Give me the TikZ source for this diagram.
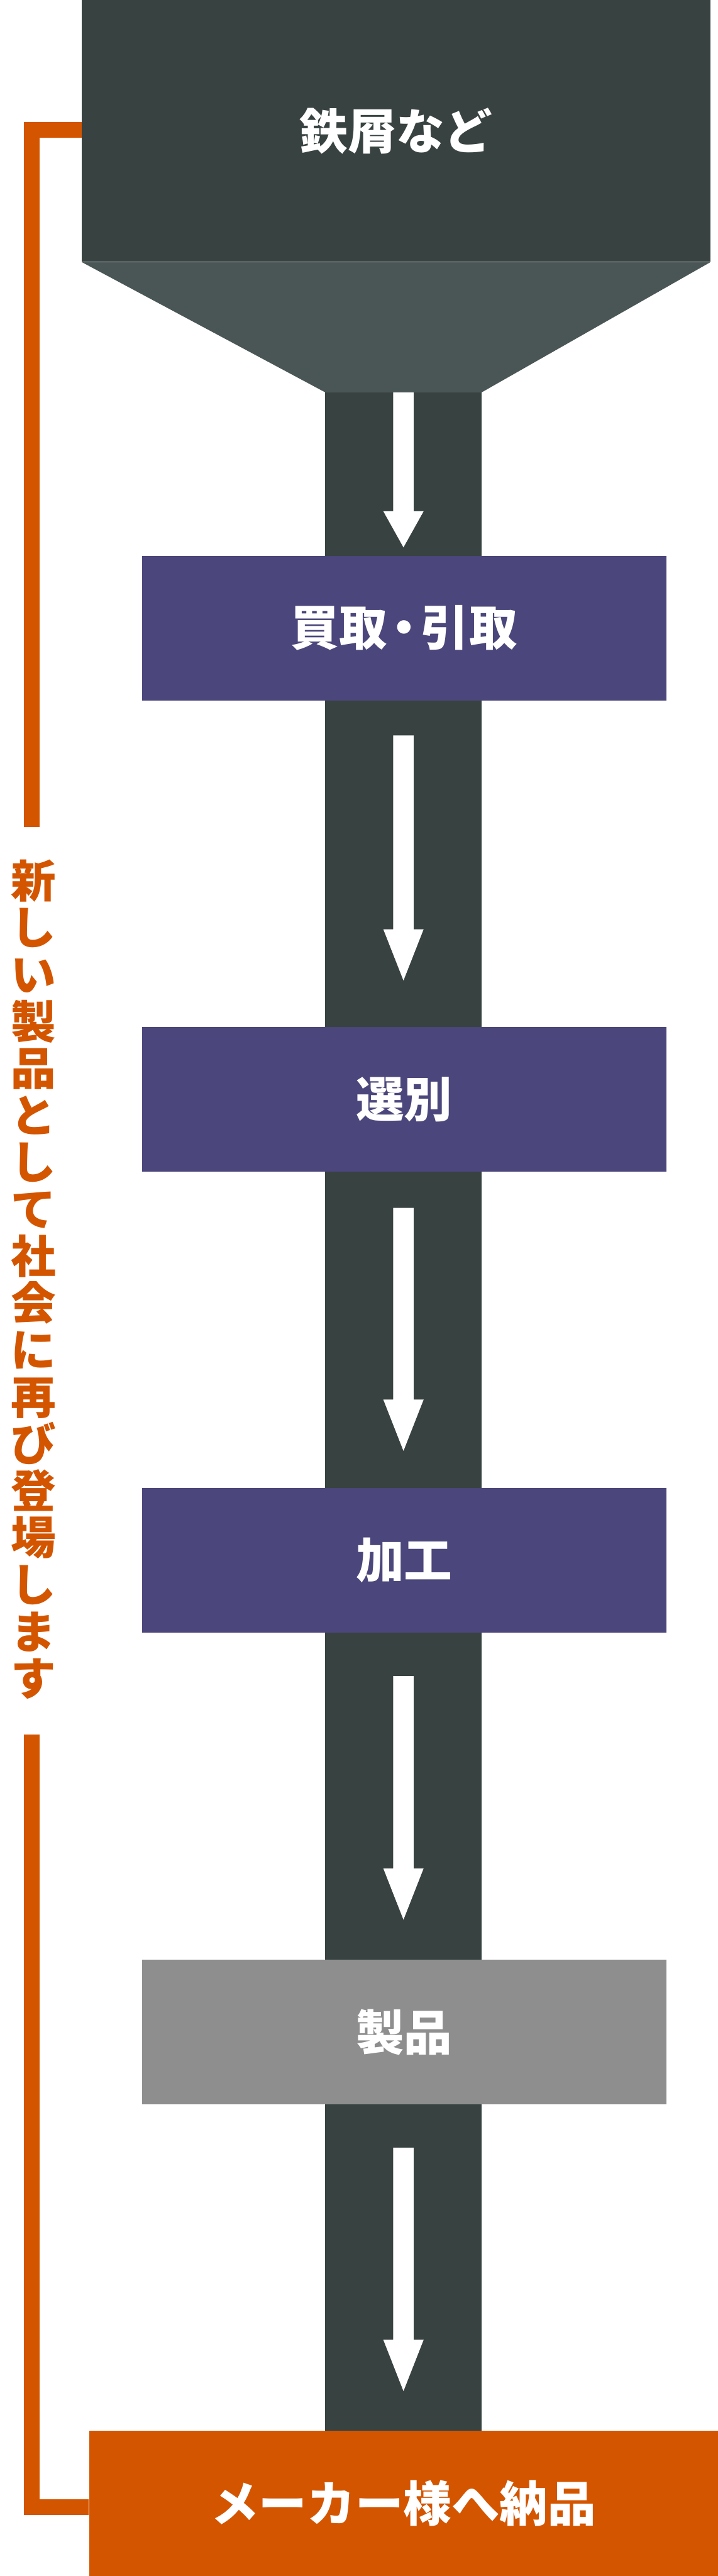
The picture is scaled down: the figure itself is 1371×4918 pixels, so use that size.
\documentclass[tikz,border=0pt]{standalone}
\usepackage{fontspec}
\setmainfont{Noto Sans CJK JP}
\usetikzlibrary{calc}
\definecolor{darkcol}{HTML}{384241}
\definecolor{funnelcol}{HTML}{4A5656}
\definecolor{purplecol}{HTML}{4B467B}
\definecolor{graycol}{HTML}{8E8E8E}
\definecolor{orangecol}{HTML}{D45500}
\newcommand\flowarrow[3]{%
  \fill[white] let \p1=(#1), \p2=(#2) in
    (\x1-19.5pt,\y1) -- (\x1+19.5pt,\y1) -- (\x1+19.5pt,\y2+#3pt) --
    (\x1+38.5pt,\y2+#3pt) -- (\x2,\y2) -- (\x1-38.5pt,\y2+#3pt) --
    (\x1-19.5pt,\y2+#3pt) -- cycle;}
\begin{document}
\begin{tikzpicture}[x=1pt,y=-1pt,
  box/.style={rectangle, inner sep=0pt, minimum width=1002pt, minimum height=276pt,
    text=white, font=\fontsize{92}{96}\selectfont\bfseries},
  bracket/.style={draw=orangecol, line width=30pt}]
\fill[white] (0,0) rectangle (1371,4918);
\useasboundingbox (0,0) rectangle (1371,4918);
% column
\fill[darkcol] (621,740) rectangle (920,4645);
% hopper
\node[box, fill=darkcol, minimum width=1201pt, minimum height=500pt] (src) at (756.5,250) {鉄屑など};
\coordinate (fl) at (621,749);
\coordinate (fr) at (920,749);
\fill[funnelcol] (src.south west) -- (src.south east) -- (fr) -- (fl) -- cycle;
% boxes
\node[box, fill=purplecol] (b1) at (772,1199) {買取\kern-.15em・\kern-.15em引取};
\node[box, fill=purplecol] (b2) at (772,2098.5) {選別};
\node[box, fill=purplecol] (b3) at (772,2979) {加工};
\node[box, fill=graycol] (b4) at (772,3879.5) {製品};
\node[box, fill=orangecol, minimum width=1201pt, minimum height=277pt] (dest) at (770.5,4779.5) {メーカー様へ納品};
% arrows
\coordinate (a1s) at (770.5,749);  \coordinate (a1e) at (770.5,1045);
\coordinate (a2s) at (770.5,1404); \coordinate (a2e) at (770.5,1872);
\coordinate (a3s) at (770.5,2306); \coordinate (a3e) at (770.5,2770);
\coordinate (a4s) at (770.5,3200); \coordinate (a4e) at (770.5,3665);
\coordinate (a5s) at (770.5,4100); \coordinate (a5e) at (770.5,4565);
\flowarrow{a1s}{a1e}{69}
\flowarrow{a2s}{a2e}{98}
\flowarrow{a3s}{a3e}{98}
\flowarrow{a4s}{a4e}{98}
\flowarrow{a5s}{a5e}{98}
% bracket
\coordinate (brTop) at (61,1579);
\coordinate (brBot) at (61,3312);
\draw[bracket] (src.west |- 0,248.5) -- (61,248.5) -- (brTop);
\draw[bracket] (brBot) -- (61,4787) -- (dest.west |- 0,4787);
\node[text=orangecol, font=\fontsize{86}{89.6}\selectfont\bfseries, align=center, inner sep=0pt] (vt) at (64,2442.5)
  {新\\し\\い\\製\\品\\と\\し\\て\\社\\会\\に\\再\\び\\登\\場\\し\\ま\\す};
\end{tikzpicture}
\end{document}
